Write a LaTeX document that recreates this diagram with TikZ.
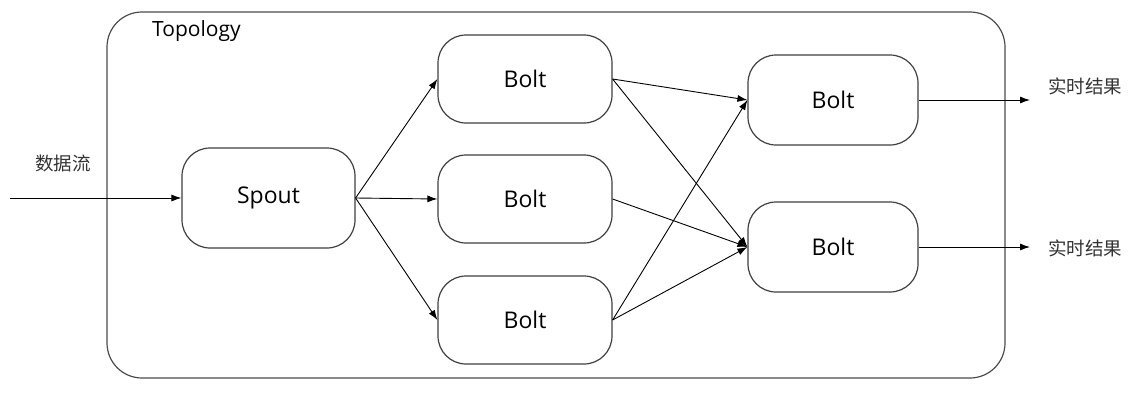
\documentclass[tikz,border=0pt]{standalone}
\usepackage{fontspec}
\setmainfont{Open Sans}
\newfontfamily\cjk{Noto Sans CJK SC}
\usetikzlibrary{arrows.meta}
\tikzset{
  proc/.style={draw=black!75, line width=1.2pt, rounded corners=28pt, minimum height=88pt, inner sep=0pt, font=\fontsize{23}{26}\selectfont},
  conn/.style={line width=0.9pt, -{Latex[length=10pt,width=7pt]}},
  cn/.style={font=\cjk\fontsize{18.5}{22}\selectfont, text=black!80}
}
\begin{document}
\begin{tikzpicture}[x=1pt,y=-1pt]
\useasboundingbox (0,0) rectangle (1142,402);
\fill[white] (0,0) rectangle (1142,402);
\draw[black!70, line width=1.2pt, rounded corners=35pt] (107,12) rectangle (1005,378);
\node[font=\fontsize{21}{24}\selectfont, anchor=west, inner sep=0pt] (topo) at (152,31) {Topology};
\node[proc, minimum width=173pt, minimum height=100pt] (spout) at (268.5,198) {\raisebox{-2pt}{Spout}};
\node[proc, minimum width=174pt] (b1) at (525,79) {Bolt};
\node[proc, minimum width=174pt] (b2) at (525,199) {Bolt};
\node[proc, minimum width=174pt] (b3) at (525,320) {Bolt};
\node[proc, minimum width=170pt, minimum height=90pt] (c1) at (833,100) {Bolt};
\node[proc, minimum width=170pt, minimum height=90pt] (c2) at (833,247) {Bolt};
\coordinate (in) at (10,198);
\coordinate (o1) at (1030,100);
\coordinate (o2) at (1030,247);
\node[cn] (lin) at (63,163) {数据流};
\node[cn] (lo1) at (1085,86) {实时结果};
\node[cn] (lo2) at (1085,248) {实时结果};
\draw[conn] (in) -- (spout.west);
\draw[conn] (spout.east) -- (b1.west);
\draw[conn] (spout.east) -- (b2.west);
\draw[conn] (spout.east) -- (b3.west);
\draw[conn] (b1.east) -- (c1.west);
\draw[conn] (b1.east) -- (c2.west);
\draw[conn] (b2.east) -- (c2.west);
\draw[conn] (b3.east) -- (c1.west);
\draw[conn] (b3.east) -- (c2.west);
\draw[conn] (c1.east) -- (o1);
\draw[conn] (c2.east) -- (o2);
\end{tikzpicture}
\end{document}
